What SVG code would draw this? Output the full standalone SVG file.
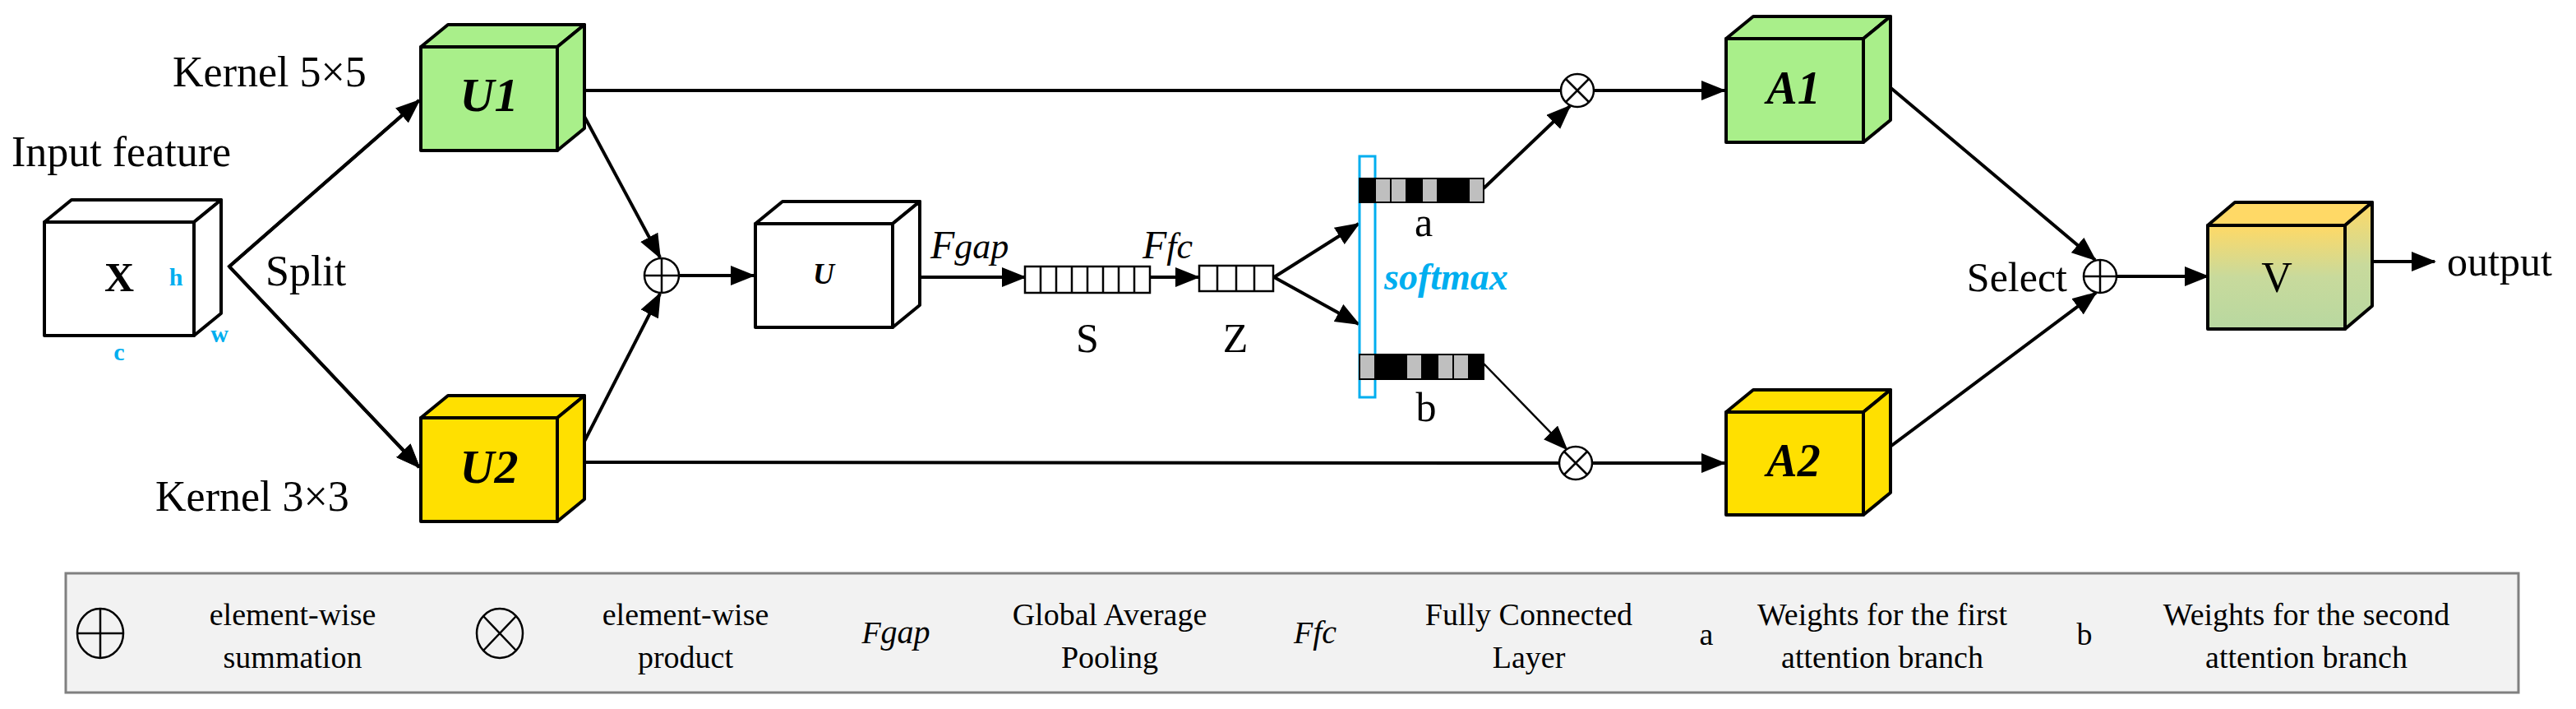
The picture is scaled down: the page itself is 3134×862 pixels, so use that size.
<svg xmlns="http://www.w3.org/2000/svg" width="3134" height="862" viewBox="0 0 3134 862">
<style>
.t{font-family:"Liberation Serif",serif;fill:#000}
.cube{stroke:#000;stroke-width:4;stroke-linejoin:round}
.ln{stroke:#000;stroke-width:4;fill:none}
.op{stroke:#000;stroke-width:2.5;fill:#fff}
.cell{stroke:#000;stroke-width:2.5;fill:#fff}
.lg{font-size:38px;text-anchor:middle}
</style>
<defs>
<marker id="ah" markerUnits="userSpaceOnUse" markerWidth="30" markerHeight="24" refX="28" refY="12" orient="auto"><path d="M0,0 L30,12 L0,24 Z" fill="#000"/></marker>
<linearGradient id="vg" x1="0" y1="0" x2="0" y2="1"><stop offset="0" stop-color="#FFD966"/><stop offset="0.5" stop-color="#C8DA9C"/><stop offset="1" stop-color="#B8D8A0"/></linearGradient>
</defs>
<rect width="3134" height="862" fill="#fff"/>

<g id="connectors">
<polyline class="ln" points="510,122 279,324 510,568" marker-end="url(#ah)" marker-start="url(#ah)" style="marker-start:none"/>
<line class="ln" x1="279" y1="324" x2="510" y2="122" marker-end="url(#ah)"/>
<line class="ln" x1="279" y1="324" x2="510" y2="568" marker-end="url(#ah)"/>
<line class="ln" x1="694" y1="110" x2="803" y2="313" marker-end="url(#ah)"/>
<line class="ln" x1="698" y1="562" x2="803" y2="357" marker-end="url(#ah)"/>
<line class="ln" x1="826" y1="335" x2="917" y2="335" marker-end="url(#ah)"/>
<line class="ln" x1="694" y1="110" x2="1899" y2="110"/>
<line class="ln" x1="1939" y1="110" x2="2098" y2="110" marker-end="url(#ah)"/>
<line class="ln" x1="698" y1="562" x2="1897" y2="563"/>
<line class="ln" x1="1937" y1="563" x2="2098" y2="563" marker-end="url(#ah)"/>
<line class="ln" x1="1110" y1="337" x2="1247" y2="337" marker-end="url(#ah)"/>
<line class="ln" x1="1399" y1="337" x2="1458" y2="337" marker-end="url(#ah)"/>
<line class="ln" x1="1550" y1="337" x2="1653" y2="272" marker-end="url(#ah)"/>
<line class="ln" x1="1550" y1="337" x2="1653" y2="394" marker-end="url(#ah)"/>
<line class="ln" x1="1805" y1="229" x2="1910" y2="129" marker-end="url(#ah)"/>
<line x1="1805" y1="442" x2="1906" y2="546" stroke="#000" stroke-width="2.5" marker-end="url(#ah)"/>
<line class="ln" x1="2291" y1="99" x2="2549" y2="316" marker-end="url(#ah)"/>
<line class="ln" x1="2285" y1="554" x2="2550" y2="356" marker-end="url(#ah)"/>
<line class="ln" x1="2575" y1="336" x2="2686" y2="336" marker-end="url(#ah)"/>
<line class="ln" x1="2886" y1="318" x2="2962" y2="318" marker-end="url(#ah)"/>
</g>

<g id="node-X">
<rect class="cube" x="54" y="270" width="182" height="138" fill="#fff"/>
<polygon class="cube" points="54,270 87,243 269,243 236,270" fill="#fff"/>
<polygon class="cube" points="236,270 269,243 269,381 236,408" fill="#fff"/>
<text class="t" x="145" y="354" font-size="50" font-weight="bold" text-anchor="middle">X</text>
<text class="t" x="214" y="347" font-size="30" font-weight="bold" fill="#00AEEF" style="fill:#00AEEF" text-anchor="middle">h</text>
<text class="t" x="267" y="416" font-size="30" font-weight="bold" style="fill:#00AEEF" text-anchor="middle">w</text>
<text class="t" x="145" y="438" font-size="30" font-weight="bold" style="fill:#00AEEF" text-anchor="middle">c</text>
<text class="t" x="14" y="202" font-size="52">Input feature</text>
<text class="t" x="323" y="347" font-size="52">Split</text>
</g>

<g id="node-U1">
<rect class="cube" x="512" y="57" width="166" height="126" fill="#A9EF8A"/>
<polygon class="cube" points="512,57 545,30 711,30 678,57" fill="#A9EF8A"/>
<polygon class="cube" points="678,57 711,30 711,156 678,183" fill="#A9EF8A"/>
<text class="t" x="595" y="135" font-size="58" font-weight="bold" font-style="italic" text-anchor="middle">U1</text>
<text class="t" x="210" y="105" font-size="52">Kernel 5×5</text>
</g>

<g id="node-U2">
<rect class="cube" x="512" y="508" width="166" height="126" fill="#FFE000"/>
<polygon class="cube" points="512,508 545,481 711,481 678,508" fill="#FFE000"/>
<polygon class="cube" points="678,508 711,481 711,607 678,634" fill="#FFE000"/>
<text class="t" x="595" y="587" font-size="58" font-weight="bold" font-style="italic" text-anchor="middle">U2</text>
<text class="t" x="189" y="621" font-size="52">Kernel 3×3</text>
</g>

<g id="node-sum1">
<circle class="op" cx="805" cy="335" r="21"/>
<line x1="784" y1="335" x2="826" y2="335" stroke="#000" stroke-width="2.5"/>
<line x1="805" y1="314" x2="805" y2="356" stroke="#000" stroke-width="2.5"/>
</g>

<g id="node-U">
<rect class="cube" x="919" y="272" width="167" height="126" fill="#fff"/>
<polygon class="cube" points="919,272 952,245 1119,245 1086,272" fill="#fff"/>
<polygon class="cube" points="1086,272 1119,245 1119,371 1086,398" fill="#fff"/>
<text class="t" x="1002" y="345" font-size="36" font-weight="bold" font-style="italic" text-anchor="middle">U</text>
</g>

<g id="node-S">
<rect class="cell" x="1247" y="324" width="152" height="32"/>
<path d="M1266,324V356M1285,324V356M1304,324V356M1323,324V356M1342,324V356M1361,324V356M1380,324V356" stroke="#000" stroke-width="2.5"/>
<text class="t" x="1323" y="428" font-size="50" text-anchor="middle">S</text>
<text class="t" x="1132" y="314" font-size="48" font-style="italic">F<tspan font-size="44">gap</tspan></text>
<text class="t" x="1390" y="314" font-size="48" font-style="italic">F<tspan font-size="44">fc</tspan></text>
</g>

<g id="node-Z">
<rect class="cell" x="1459" y="323" width="90" height="31"/>
<path d="M1481,323V354M1504,323V354M1526,323V354" stroke="#000" stroke-width="2.5"/>
<text class="t" x="1503" y="428" font-size="50" text-anchor="middle">Z</text>
</g>

<g id="node-softmax">
<rect x="1654" y="190" width="19" height="293" fill="none" stroke="#00AEEF" stroke-width="3"/>
<text class="t" x="1684" y="352" font-size="46" font-weight="bold" font-style="italic" style="fill:#00AEEF">softmax</text>
</g>

<g id="node-a">
<g stroke="#000" stroke-width="2">
<rect x="1654" y="217" width="19" height="29" fill="#000"/>
<rect x="1673" y="217" width="19" height="29" fill="#BFBFBF"/>
<rect x="1692" y="217" width="19" height="29" fill="#BFBFBF"/>
<rect x="1711" y="217" width="19" height="29" fill="#000"/>
<rect x="1730" y="217" width="19" height="29" fill="#BFBFBF"/>
<rect x="1749" y="217" width="38" height="29" fill="#000"/>
<rect x="1787" y="217" width="18" height="29" fill="#BFBFBF"/>
</g>
<text class="t" x="1732" y="287" font-size="50" text-anchor="middle">a</text>
</g>

<g id="node-b">
<g stroke="#000" stroke-width="2">
<rect x="1654" y="431" width="19" height="30" fill="#BFBFBF"/>
<rect x="1673" y="431" width="38" height="30" fill="#000"/>
<rect x="1711" y="431" width="19" height="30" fill="#BFBFBF"/>
<rect x="1730" y="431" width="19" height="30" fill="#000"/>
<rect x="1749" y="431" width="19" height="30" fill="#BFBFBF"/>
<rect x="1768" y="431" width="19" height="30" fill="#BFBFBF"/>
<rect x="1787" y="431" width="18" height="30" fill="#000"/>
</g>
<text class="t" x="1735" y="512" font-size="50" text-anchor="middle">b</text>
</g>

<g id="node-prod1">
<circle class="op" cx="1919" cy="110" r="20"/>
<path d="M1905,96L1933,124M1933,96L1905,124" stroke="#000" stroke-width="2.5"/>
</g>
<g id="node-prod2">
<circle class="op" cx="1917" cy="563" r="20"/>
<path d="M1903,549L1931,577M1931,549L1903,577" stroke="#000" stroke-width="2.5"/>
</g>

<g id="node-A1">
<rect class="cube" x="2100" y="47" width="167" height="126" fill="#A9EF8A"/>
<polygon class="cube" points="2100,47 2133,20 2300,20 2267,47" fill="#A9EF8A"/>
<polygon class="cube" points="2267,47 2300,20 2300,146 2267,173" fill="#A9EF8A"/>
<text class="t" x="2182" y="126" font-size="56" font-weight="bold" font-style="italic" text-anchor="middle">A1</text>
</g>
<g id="node-A2">
<rect class="cube" x="2100" y="501" width="167" height="125" fill="#FFE000"/>
<polygon class="cube" points="2100,501 2133,474 2300,474 2267,501" fill="#FFE000"/>
<polygon class="cube" points="2267,501 2300,474 2300,599 2267,626" fill="#FFE000"/>
<text class="t" x="2182" y="579" font-size="56" font-weight="bold" font-style="italic" text-anchor="middle">A2</text>
</g>

<g id="node-select">
<circle class="op" cx="2555" cy="336" r="20"/>
<line x1="2535" y1="336" x2="2575" y2="336" stroke="#000" stroke-width="2.5"/>
<line x1="2555" y1="316" x2="2555" y2="356" stroke="#000" stroke-width="2.5"/>
<text class="t" x="2515" y="354" font-size="50" text-anchor="end">Select</text>
</g>

<g id="node-V">
<rect class="cube" x="2686" y="274" width="167" height="126" fill="url(#vg)"/>
<polygon class="cube" points="2686,274 2719,246 2886,246 2853,274" fill="#FFD966"/>
<polygon class="cube" points="2853,274 2886,246 2886,372 2853,400" fill="url(#vg)"/>
<text class="t" x="2770" y="355" font-size="52" text-anchor="middle">V</text>
<text class="t" x="2977" y="335" font-size="50">output</text>
</g>

<g id="legend">
<rect x="80" y="697" width="2984" height="145" fill="#F2F2F2" stroke="#808080" stroke-width="3"/>
<ellipse cx="122" cy="770" rx="28" ry="30" fill="none" stroke="#000" stroke-width="2.5"/>
<path d="M94,770H150M122,740V800" stroke="#000" stroke-width="2.5"/>
<text class="t lg" x="356" y="760">element-wise</text>
<text class="t lg" x="356" y="812">summation</text>
<ellipse cx="608" cy="770" rx="28" ry="30" fill="none" stroke="#000" stroke-width="2.5"/>
<path d="M588,749L628,791M628,749L588,791" stroke="#000" stroke-width="2.5"/>
<text class="t lg" x="834" y="760">element-wise</text>
<text class="t lg" x="834" y="812">product</text>
<text class="t lg" x="1090" y="782" font-style="italic" font-size="44">F<tspan font-size="40">gap</tspan></text>
<text class="t lg" x="1350" y="760">Global Average</text>
<text class="t lg" x="1350" y="812">Pooling</text>
<text class="t lg" x="1600" y="782" font-style="italic" font-size="44">F<tspan font-size="40">fc</tspan></text>
<text class="t lg" x="1860" y="760">Fully Connected</text>
<text class="t lg" x="1860" y="812">Layer</text>
<text class="t lg" x="2076" y="784" font-size="44">a</text>
<text class="t lg" x="2290" y="760">Weights for the first</text>
<text class="t lg" x="2290" y="812">attention branch</text>
<text class="t lg" x="2536" y="784" font-size="44">b</text>
<text class="t lg" x="2806" y="760">Weights for the second</text>
<text class="t lg" x="2806" y="812">attention branch</text>
</g>
</svg>
